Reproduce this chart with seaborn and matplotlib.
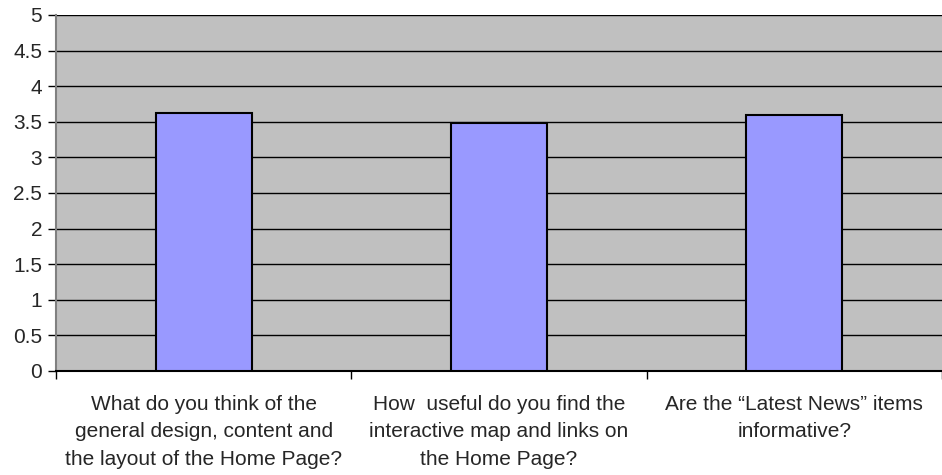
import matplotlib
matplotlib.use("Agg")
import matplotlib.pyplot as plt
import seaborn as sns
import pandas as pd
from matplotlib.ticker import MultipleLocator, FixedLocator

questions = [
    "What do you think of the\ngeneral design, content and\nthe layout of the Home Page?",
    "How  useful do you find the\ninteractive map and links on\nthe Home Page?",
    "Are the \u201cLatest News\u201d items\ninformative?",
]
scores = [3.62, 3.48, 3.60]

df = pd.DataFrame({"question": questions, "score": scores})

sns.set_theme(style="white")
plt.rcParams["font.family"] = ["Liberation Sans", "DejaVu Sans"]

fig = plt.figure(figsize=(9.42, 4.75), dpi=100)
ax = fig.add_axes([56 / 942, 1 - 371 / 475, (942 - 56) / 942, (371 - 15) / 475])
ax.set_facecolor("#C0C0C0")

sns.barplot(data=df, x="question", y="score", ax=ax, color="#9999FF",
            saturation=1, width=0.325, edgecolor="black", linewidth=1.5,
            zorder=3)

ax.set_ylim(0, 5)
ax.set_xlim(-0.5, len(questions) - 0.5)
ax.yaxis.set_major_locator(MultipleLocator(0.5))
ax.set_yticklabels([f"{v:g}" for v in ax.get_yticks()])
ax.grid(axis="y", color="black", linewidth=1, zorder=1)
ax.set_axisbelow(True)
ax.set_xlabel("")
ax.set_ylabel("")

for side in ["top", "right"]:
    ax.spines[side].set_visible(False)
ax.spines["left"].set_color("#808080")
ax.spines["left"].set_linewidth(1.5)
ax.spines["bottom"].set_color("black")
ax.spines["bottom"].set_linewidth(1.5)

ax.tick_params(axis="y", which="major", direction="out", length=6, width=1,
               color="black", labelsize=15, pad=4, left=True)
ax.tick_params(axis="x", which="major", length=0, pad=17)
ax.set_xticks(range(len(questions)))
ax.set_xticklabels(questions, fontsize=15, linespacing=1.58)
ax.xaxis.set_minor_locator(FixedLocator([-0.5, 0.5, 1.5, 2.5]))
ax.tick_params(axis="x", which="minor", direction="out", length=6, width=1,
               color="black", bottom=True)

fig.savefig("out.png", dpi=100, facecolor="white")
